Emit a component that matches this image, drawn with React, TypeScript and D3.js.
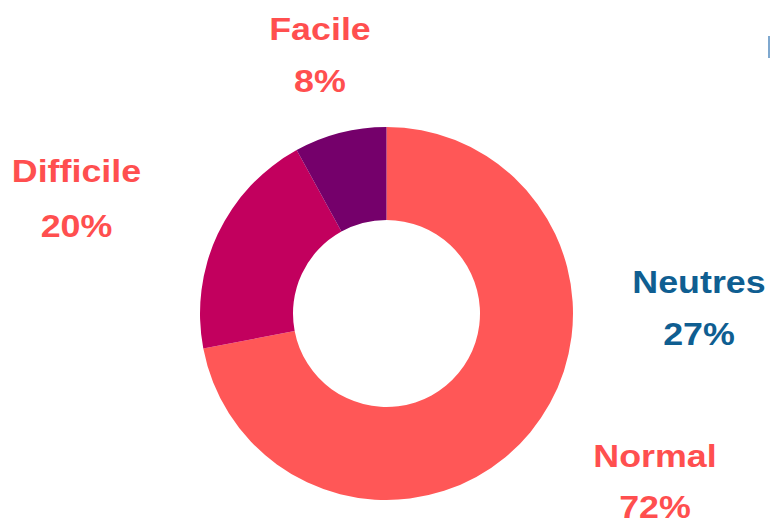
import React from "react";
import * as d3 from "d3";

const categories = ["Normal", "Difficile", "Facile"];
const values = [72, 20, 8];
const sliceColors = ["#FF5757", "#C2005E", "#75006B"];

const labelNames = ["Facile", "Difficile", "Neutres", "Normal"];
const labelValues = ["8%", "20%", "27%", "72%"];
const labelColors = ["#FF4F4F", "#FF4F4F", "#0F5E91", "#FF4F4F"];

const W = 770;
const H = 521;
const cx = 386.5;
const cy = 313.5;
const outerR = 186.5;
const innerR = 93.5;

const labelPos = [
  { x: 320, y1: 40, y2: 92 },
  { x: 76.5, y1: 182, y2: 237 },
  { x: 699, y1: 293, y2: 345 },
  { x: 655, y1: 467, y2: 517.5 },
];

export default function App() {
  const pie = d3
    .pie<number>()
    .sort(null)
    .value((d) => d);
  const arcs = pie(values);
  const arc = d3.arc<d3.PieArcDatum<number>>().innerRadius(innerR).outerRadius(outerR);

  return (
    <svg
      width={W}
      height={H}
      style={{ position: "absolute", left: 0, top: 0, background: "#fff" }}
    >
      <g transform={`translate(${cx},${cy})`}>
        {arcs.map((a, i) => (
          <path key={categories[i]} d={arc(a) || ""} fill={sliceColors[i]} />
        ))}
      </g>
      {labelNames.map((n, i) => (
        <g
          key={n}
          fontFamily="'Liberation Sans', Arial, sans-serif"
          fontWeight="bold"
          fontSize={32}
          fill={labelColors[i]}
          textAnchor="middle"
        >
          <text transform={`translate(${labelPos[i].x},${labelPos[i].y1}) scale(1.12,1)`}>{n}</text>
          <text transform={`translate(${labelPos[i].x},${labelPos[i].y2}) scale(1.12,1)`}>{labelValues[i]}</text>
        </g>
      ))}
      <rect x={768} y={36} width={2} height={22} fill="#7FA8CF" />
    </svg>
  );
}
